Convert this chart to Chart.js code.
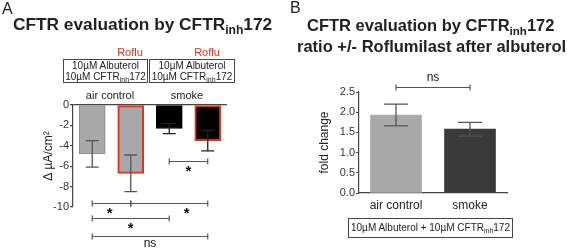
<!DOCTYPE html>
<html>
<head>
<meta charset="utf-8">
<script src="https://cdn.jsdelivr.net/npm/chart.js@4"></script>
<style>
  body { margin: 0; background: #fff; font-family: "Liberation Sans", Arial, sans-serif; color: #222; }
  #fig { position: relative; width: 567px; height: 248px; overflow: hidden; }
  canvas { position: absolute; top: 0; }
  .t { position: absolute; white-space: nowrap; line-height: 1; }
  .c { transform: translate(-50%, -50%); }
  .sub { font-size: 0.7em; position: relative; top: 0.32em; }
  .panel { font-size: 16px; }
  .title { font-weight: bold; }
  .red { color: #e0301e; font-size: 11px; }
  .box { position: absolute; border: 1px solid #444; box-sizing: border-box; font-size: 10px; color: #222;
         display: flex; flex-direction: column; justify-content: center; align-items: center; line-height: 11px; }
  .grp { font-size: 11px; }
</style>
</head>
<body>
<div id="fig">
  <canvas id="chartA" width="290" height="248" style="left:0"></canvas>
  <canvas id="chartB" width="277" height="248" style="left:290px"></canvas>

  <div class="t panel" style="left:2px;top:1px">A</div>
  <div class="t title" style="left:13px;top:16px;font-size:17.3px">CFTR evaluation by CFTR<span class="sub">inh</span>172</div>
  <div class="t c red" style="left:130px;top:52px">Roflu</div>
  <div class="t c red" style="left:207px;top:52px">Roflu</div>
  <div class="box" style="left:63px;top:59px;width:85px;height:24px">
    <div>10µM Albuterol</div><div>10µM CFTR<span class="sub">inh</span>172</div>
  </div>
  <div class="box" style="left:149px;top:59px;width:86px;height:24px">
    <div>10µM Albuterol</div><div>10µM CFTR<span class="sub">inh</span>172</div>
  </div>
  <div class="t c grp" style="left:110px;top:95px">air control</div>
  <div class="t c grp" style="left:187px;top:95px">smoke</div>

  <div class="t panel" style="left:290px;top:0px">B</div>
  <div class="t title" style="left:307px;top:17px;font-size:16.5px">CFTR evaluation by CFTR<span class="sub">inh</span>172</div>
  <div class="t title" style="left:297px;top:38px;font-size:16.5px">ratio +/- Roflumilast after albuterol</div>
  <div class="box" style="left:348px;top:218px;width:165px;height:20px">
    <div>10µM Albuterol + 10µM CFTR<span class="sub">inh</span>172</div>
  </div>
</div>

<script>
// panel A: delta Isc after CFTRinh172
const groupsA = ['air control', 'air control + Roflu', 'smoke', 'smoke + Roflu'];
const meansA = [-4.8, -6.7, -2.3, -3.5];
const semA = [1.3, 1.8, 0.5, 1.0];
const ticksA = [0, -2, -4, -6, -8, -10];
const sigA = [
  { from: 2, to: 3, level: -5.5, label: '*', at: 2.5 },
  { from: 0, to: 1, level: -9.6, label: '*', at: 0.45 },
  { from: 1, to: 3, level: -9.6, label: '*', at: 2.45 },
  { from: 0, to: 2, level: -11.1, label: '*', at: 1 },
  { from: 0, to: 3, level: -12.85, label: 'ns', at: 1.5 },
];

// panel B: fold change ratio
const groupsB = ['air control', 'smoke'];
const meansB = [1.93, 1.58];
const semB = [0.27, 0.17];
const ticksB = [0, 0.5, 1, 1.5, 2, 2.5];
const sigB = [{ from: 0, to: 1, level: 2.63, label: 'ns', at: 0.5, above: true }];

const font = { family: '"Liberation Sans", Arial, sans-serif', size: 11 };
const axisColor = '#444';

function errorBars(sem, cap, colors) {
  return {
    id: 'errorBars',
    afterDatasetsDraw(chart) {
      const { ctx, scales: { y } } = chart;
      const meta = chart.getDatasetMeta(0);
      const values = chart.data.datasets[0].data;
      ctx.save();
      ctx.lineWidth = 1.3;
      meta.data.forEach((bar, i) => {
        const y1 = y.getPixelForValue(values[i] + sem[i]);
        const y2 = y.getPixelForValue(values[i] - sem[i]);
        const w = cap / 2;
        ctx.strokeStyle = colors[i];
        ctx.beginPath();
        ctx.moveTo(bar.x, y1); ctx.lineTo(bar.x, y2);
        ctx.moveTo(bar.x - w, y1); ctx.lineTo(bar.x + w, y1);
        ctx.moveTo(bar.x - w, y2); ctx.lineTo(bar.x + w, y2);
        ctx.stroke();
      });
      ctx.restore();
    },
  };
}

function brackets(items) {
  return {
    id: 'brackets',
    afterDraw(chart) {
      const { ctx, scales: { x, y } } = chart;
      ctx.save();
      ctx.strokeStyle = '#555';
      ctx.fillStyle = '#111';
      ctx.lineWidth = 1.2;
      ctx.textAlign = 'center';
      items.forEach(b => {
        const x1 = x.getPixelForValue(b.from);
        const x2 = x.getPixelForValue(b.to);
        const yy = Math.round(y.getPixelForValue(b.level)) + 0.5;
        ctx.beginPath();
        ctx.moveTo(x1, yy); ctx.lineTo(x2, yy);
        ctx.moveTo(x1, yy - 3); ctx.lineTo(x1, yy + 3);
        ctx.moveTo(x2, yy - 3); ctx.lineTo(x2, yy + 3);
        ctx.stroke();
        const lx = x.getPixelForValue(b.at);
        if (b.label === '*') {
          ctx.font = 'bold 15px "Liberation Sans", Arial, sans-serif';
          ctx.textBaseline = 'top';
          ctx.fillText('*', lx, yy + 3);
        } else {
          ctx.font = '12px "Liberation Sans", Arial, sans-serif';
          ctx.textBaseline = 'middle';
          ctx.fillText(b.label, lx, b.above ? yy - 10 : yy + 7);
        }
      });
      ctx.restore();
    },
  };
}

new Chart(document.getElementById('chartA'), {
  type: 'bar',
  data: {
    labels: groupsA,
    datasets: [{
      data: meansA,
      backgroundColor: ['#a8a8a8', '#a8a8a8', '#000', '#000'],
      borderColor: ['#8a8a8a', '#e0301e', '#000', '#e0301e'],
      borderWidth: [1, 2, 1, 2],
      borderSkipped: false,
      barThickness: 26,
    }],
  },
  options: {
    responsive: false,
    animation: false,
    events: [],
    layout: { padding: { left: 37, right: 63, top: 105, bottom: 41 } },
    plugins: { legend: { display: false }, tooltip: { enabled: false } },
    scales: {
      x: { display: false },
      y: {
        min: -10,
        max: 0,
        afterFit: s => { s.width = 36; },
        afterBuildTicks: s => { s.ticks = ticksA.map(v => ({ value: v })); },
        ticks: { font, color: '#333', padding: 1 },
        border: { color: axisColor, width: 1.2 },
        grid: {
          tickLength: 3,
          tickColor: axisColor,
          color: c => (c.tick && c.tick.value === 0 ? axisColor : 'rgba(0,0,0,0)'),
          lineWidth: 1.2,
        },
        title: { display: true, text: 'Δ µA/cm²', font: { ...font, size: 12 }, color: '#222' },
      },
    },
  },
  plugins: [errorBars(semA, 13, ['#555', '#555', '#222', '#222']), brackets(sigA)],
});

new Chart(document.getElementById('chartB'), {
  type: 'bar',
  data: {
    labels: groupsB,
    datasets: [{
      data: meansB,
      backgroundColor: ['#a9a9a9', '#3a3a3a'],
      borderWidth: 0,
      barThickness: 51,
    }],
  },
  options: {
    responsive: false,
    animation: false,
    events: [],
    layout: { padding: { left: 23, right: 60, top: 92, bottom: 35 } },
    plugins: { legend: { display: false }, tooltip: { enabled: false } },
    scales: {
      x: {
        afterFit: s => { s.height = 20; },
        ticks: { font: { ...font, size: 12 }, color: '#222', padding: 5 },
        border: { color: axisColor, width: 1.2 },
        grid: { display: false, drawTicks: false },
      },
      y: {
        min: 0,
        max: 2.5,
        afterFit: s => { s.width = 46; },
        afterBuildTicks: s => { s.ticks = ticksB.map(v => ({ value: v })); },
        ticks: { font, color: '#333', padding: 1, callback: v => v.toFixed(1) },
        border: { color: axisColor, width: 1.2 },
        grid: { drawOnChartArea: false, tickLength: 3, tickColor: axisColor },
        title: { display: true, text: 'fold change', font: { ...font, size: 12 }, color: '#222' },
      },
    },
  },
  plugins: [errorBars(semB, 24, ['#555', '#555']), brackets(sigB)],
});
</script>
</body>
</html>
